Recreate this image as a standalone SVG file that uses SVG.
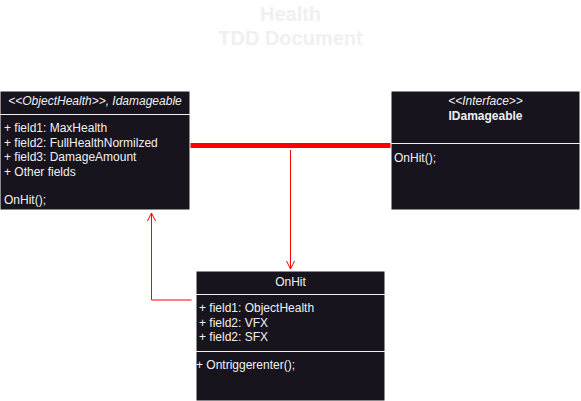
<svg xmlns="http://www.w3.org/2000/svg" width="581" height="401" viewBox="0 0 581 401">
<defs>
<style>
text{font-family:"Liberation Sans",Arial,sans-serif;font-size:12px;fill:#f0f0f0}
.box{fill:#18141d;stroke:#ffffff;stroke-width:1}
.sep{stroke:#f0f0f0;stroke-width:1}
.title{font-size:20px;font-weight:bold;fill:#f0f0f0;text-anchor:middle}
.it{font-style:italic}
.c{text-anchor:middle}
.b{font-weight:bold}
.thin{fill:none;stroke:#ff0000;stroke-width:1}
</style>
<marker id="open" viewBox="0 0 10 10" refX="9" refY="5" markerWidth="10" markerHeight="10" markerUnits="userSpaceOnUse" orient="auto">
<path d="M1,1 L9,5 L1,9" fill="none" stroke="#ff0000" stroke-width="1"/>
</marker>
</defs>
<rect width="581" height="401" fill="#ffffff"/>
<text class="title" x="290.5" y="21">Health</text>
<text class="title" x="290.5" y="45">TDD Document</text>
<g id="connectors">
<line x1="190" y1="145.5" x2="391" y2="145.5" stroke="#ff0000" stroke-width="5"/>
<path class="thin" d="M290.5,150 L290.5,269" marker-end="url(#open)"/>
<path class="thin" d="M191.5,300 L151.5,300 L151.5,213" marker-end="url(#open)"/>
</g>
<g id="objecthealth">
<rect class="box" x="0" y="91" width="190" height="119"/>
<text class="it c" x="95" y="105">&lt;&lt;ObjectHealth&gt;&gt;, Idamageable</text>
<line class="sep" x1="0" y1="114.5" x2="190" y2="114.5"/>
<text x="4" y="132">+ field1: MaxHealth</text>
<text x="4" y="147">+ field2: FullHealthNormilzed</text>
<text x="4" y="161">+ field3: DamageAmount</text>
<text x="4" y="176">+ Other fields</text>
<text x="4" y="204">OnHit();</text>
</g>
<g id="idamageable">
<rect class="box" x="391" y="91" width="189" height="119"/>
<text class="it c" x="485.5" y="105">&lt;&lt;Interface&gt;&gt;</text>
<text class="b c" x="485.5" y="120">IDamageable</text>
<line class="sep" x1="391" y1="143.5" x2="580" y2="143.5"/>
<text x="394" y="162">OnHit();</text>
</g>
<g id="onhit">
<rect class="box" x="196" y="271" width="189" height="130"/>
<text class="c" x="290.5" y="286">OnHit</text>
<line class="sep" x1="196" y1="294.5" x2="385" y2="294.5"/>
<text x="199" y="312">+ field1: ObjectHealth</text>
<text x="199" y="327">+ field2: VFX</text>
<text x="199" y="341">+ field2: SFX</text>
<line class="sep" x1="196" y1="351.5" x2="385" y2="351.5"/>
<text x="196" y="369">+ Ontriggerenter();</text>
</g>
</svg>
